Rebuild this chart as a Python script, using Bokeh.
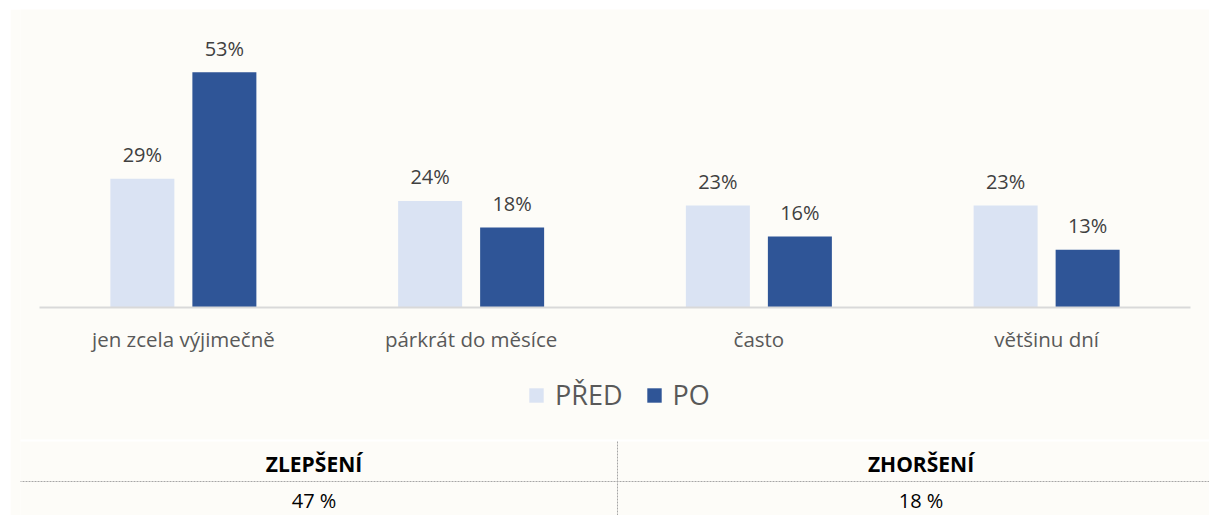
import numpy as np
from bokeh.plotting import figure
from bokeh.models import Range1d, Legend, LegendItem, ColumnDataSource
from bokeh.embed import file_html
from bokeh.resources import INLINE
from bokeh.core.properties import value

categories = ["jen zcela výjimečně", "párkrát do měsíce", "často", "většinu dní"]
pred = [29, 24, 23, 23]
po = [53, 18, 16, 13]
series_names = ["PŘED", "PO"]
table_headers = ["ZLEPŠENÍ", "ZHORŠENÍ"]
table_values = ["47 %", "18 %"]

BG = "#FDFCF8"
C_PRED = "#DAE3F3"
C_PO = "#2F5597"
FONT = "Open Sans"

# x in category units (one category = 1), y in percentage points
OFF = 0.1425   # half distance between the two bars of a group
W = 0.2224     # bar width
centers = np.arange(len(categories)) + 0.5
src = ColumnDataSource(dict(
    cat=categories, xc=centers, x_pred=centers - OFF, x_po=centers + OFF,
    pred=pred, po=po,
    pred_lbl=[f"{v}%" for v in pred], po_lbl=[f"{v}%" for v in po],
))

CAT_PX = 287.75          # pixels per category
PAD = 19 / CAT_PX        # frame padding beyond the category axis
PX = 4.44                # pixels per percentage point
p = figure(width=1199, height=506,
           x_range=Range1d(-PAD, len(categories) + PAD),
           y_range=Range1d(-208 / PX, 298 / PX),
           output_backend="svg", toolbar_location=None,
           x_axis_location=None, y_axis_location=None,
           min_border_left=10, min_border_right=0, min_border_top=0, min_border_bottom=0)
p.margin = (9, 0, 0, 10)
p.background_fill_color = BG
p.border_fill_color = BG
p.outline_line_color = None
p.grid.visible = False

r1 = p.vbar(x="x_pred", top="pred", width=W, source=src, fill_color=C_PRED, line_color=None)
r2 = p.vbar(x="x_po", top="po", width=W, source=src, fill_color=C_PO, line_color=None)
for xcol, col, lbl in [("x_pred", "pred", "pred_lbl"), ("x_po", "po", "po_lbl")]:
    p.text(x=xcol, y=col, text=lbl, source=src,
           text_align="center", text_baseline="middle", y_offset=-24,
           text_font=value(FONT), text_font_size="20px", text_color="#404040")

# category axis: baseline and labels
p.segment(x0=[0], y0=[0], x1=[len(categories)], y1=[0], line_color="#D9D9D9", line_width=2)
p.text(x="xc", y=0, text="cat", source=src, y_offset=31,
       text_align="center", text_baseline="middle",
       text_font=value(FONT), text_font_size="20.5px", text_color="#595959")

legend = Legend(items=[LegendItem(label=series_names[0], renderers=[r1]),
                       LegendItem(label=series_names[1], renderers=[r2])],
                orientation="horizontal", location=(507, 102),
                label_text_font=FONT, label_text_font_size="27px", label_text_color="#595959",
                glyph_width=18, glyph_height=18, label_height=30, label_standoff=10, spacing=22,
                background_fill_alpha=0, border_line_color=None, margin=0, padding=4)
p.add_layout(legend, "center")

# table below the chart: two columns of 607 px starting at page x 10; rows of 40 px
COL = 607 / CAT_PX
T_LEFT = -10 / CAT_PX - PAD
t_centers = [T_LEFT + (k + 0.5) * COL for k in range(2)]
t_div = T_LEFT + COL
p.extra_y_ranges = {"ty": Range1d(-34 / 40, 472 / 40)}
p.segment(x0=[T_LEFT], y0=[1.025], x1=[T_LEFT + 2 * COL], y1=[1.025], line_color="#FFFFFF",
          line_width=2, y_range_name="ty")
p.segment(x0=[T_LEFT], y0=[0], x1=[T_LEFT + 2 * COL], y1=[0], line_color="#A6A6A6", line_width=1,
          line_dash="2 1", y_range_name="ty")
p.segment(x0=[t_div], y0=[1.0], x1=[t_div], y1=[-0.85], line_color="#A6A6A6", line_width=1,
          line_dash="2 1", y_range_name="ty")
p.text(x=t_centers, y=[0.45, 0.45], text=table_headers, text_align="center", text_baseline="middle",
       text_font=value(FONT), text_font_size="21px", text_font_style="bold", text_color="#000000",
       y_range_name="ty")
p.text(x=t_centers, y=[-0.48, -0.48], text=table_values, text_align="center", text_baseline="middle",
       text_font=value(FONT), text_font_size="20px", text_color="#000000",
       y_range_name="ty")

open("out.html", "w").write(file_html(p, INLINE))
